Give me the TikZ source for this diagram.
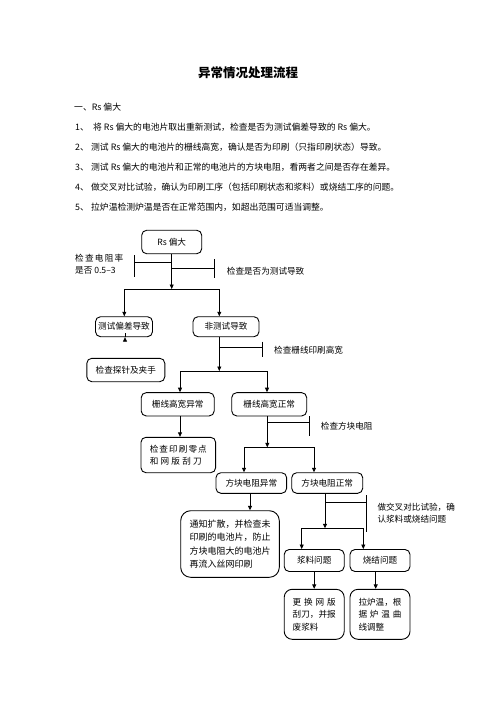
\documentclass[tikz,border=0pt]{standalone}
\usepackage{fontspec}
\setmainfont{Noto Sans CJK SC}
\usetikzlibrary{arrows.meta}
\tikzset{%
	box/.style = {draw,rounded corners=5pt,line width=0.9pt,inner sep=0pt,align=center,font=\fontsize{8.6}{12.5}\selectfont},
	note/.style = {anchor=west,inner sep=0pt,align=left,font=\fontsize{8.6}{12.3}\selectfont},
	body/.style = {anchor=west,inner sep=0pt,font=\fontsize{8.8}{10}\selectfont},
	line/.style = {line width=0.8pt},
	arr/.style = {line width=0.8pt,-{Triangle[width=4pt,length=4.5pt]}}%
}

\begin{document}
\begin{tikzpicture}[x=1pt,y=-1pt]
		\useasboundingbox (0,0) rectangle (496,702);
		
		\node(title)[font=\fontsize{12.5}{14}\selectfont\bfseries] at (248,73){异常情况处理流程};
		\node(l0)[body] at (74,107.5){一、Rs 偏大};
		\node(l1)[body] at (75,127.5){\makebox[18pt][l]{1、}将 Rs 偏大的电池片取出重新测试，检查是否为测试偏差导致的 Rs 偏大。};
		\node(l2)[body] at (75,147){\makebox[16pt][l]{2、}测试 Rs 偏大的电池片的栅线高宽，确认是否为印刷（只指印刷状态）导致。};
		\node(l3)[body] at (75,167){\makebox[16pt][l]{3、}测试 Rs 偏大的电池片和正常的电池片的方块电阻，看两者之间是否存在差异。};
		\node(l4)[body] at (75,187){\makebox[16pt][l]{4、}做交叉对比试验，确认为印刷工序（包括印刷状态和浆料）或烧结工序的问题。};
		\node(l5)[body] at (75,207){\makebox[16pt][l]{5、}拉炉温检测炉温是否在正常范围内，如超出范围可适当调整。};
		
		% flow boxes
		\node(rs)[box,minimum width=60,minimum height=23.5] at (171.7,242){Rs 偏大};
		\node(b1)[box,minimum width=57,minimum height=20] at (124,326.7){测试偏差导致};
		\node(b2)[box,minimum width=66,minimum height=20] at (226,326.7){非测试导致};
		\node(b3)[box,minimum width=78,minimum height=23.4] at (125.8,370){检查探针及夹手};
		\node(b4)[box,minimum width=73,minimum height=23.3] at (177.7,404.3){栅线高宽异常};
		\node(b5)[box,minimum width=75,minimum height=23.3] at (269.2,404.3){栅线高宽正常};
		\node(b6)[box,minimum width=74.7,minimum height=35.4] at (178.3,455){\makebox[57pt][s]{检\hfill 查\hfill 印\hfill 刷\hfill 零\hfill 点}\\\makebox[57pt][l]{\makebox[52pt][s]{和\hfill 网\hfill 版\hfill 刮\hfill 刀}}};
		\node(b7)[box,minimum width=70.7,minimum height=20.6] at (251.3,483){方块电阻异常};
		\node(b8)[box,minimum width=71,minimum height=20.6] at (327.2,483){方块电阻正常};
		\node(b9)[box,rounded corners=10pt,minimum width=98.6,minimum height=66.6,font=\fontsize{9}{13.3}\selectfont,align=left] at (230,544){通知扩散，并检查未\\印刷的电池片，防止\\方块电阻大的电池片\\再流入丝网印刷};
		\node(b10)[box,minimum width=60,minimum height=22] at (314.2,560.5){浆料问题};
		\node(b11)[box,minimum width=60,minimum height=22] at (380,560.5){烧结问题};
		\node(b12)[box,rounded corners=8pt,minimum width=60,minimum height=50,align=left] at (314.2,614.3){\makebox[43pt][s]{更\hfill 换\hfill 网\hfill 版}\\刮刀，并报\\废浆料};
		\node(b13)[box,rounded corners=8pt,minimum width=60,minimum height=50,align=left] at (380,614.3){拉炉温，根\\\makebox[43pt][s]{据\hfill 炉\hfill 温\hfill 曲}\\线调整};
		
		% side notes
		\node(n1)[note] at (75,264){\makebox[48pt][s]{检\hfill 查\hfill 电\hfill 阻\hfill 率}\\是否 0.5--3};
		\node(n2)[note] at (226.7,271.7){检查是否为测试导致};
		\node(n3)[note] at (274,350.7){检查栅线印刷高宽};
		\node(n4)[note] at (320.7,426){检查方块电阻};
		\node(n5)[note] at (377.3,513.3){做交叉对比试验，确\\认浆料或烧结问题};
		
		% joints
		\coordinate(j1) at (171.7,289);
		\coordinate(j1a) at (124.3,289);
		\coordinate(j1b) at (219.3,289);
		\coordinate(j2) at (219.3,371);
		\coordinate(j2a) at (180,371);
		\coordinate(j2b) at (267,371);
		\coordinate(j3) at (267.3,447.3);
		\coordinate(j3a) at (244,447.3);
		\coordinate(j3b) at (314,447.3);
		\coordinate(j4) at (325,528.3);
		\coordinate(j4a) at (301.7,528.3);
		\coordinate(j4b) at (363.3,528.3);
		\coordinate(t1) at (134,262.7);
		\coordinate(t2) at (214.3,268.3);
		\coordinate(t3) at (262,347.3);
		\coordinate(t4) at (309.3,422.7);
		\coordinate(t5) at (366.7,502.7);
		
		\draw[arr] (rs) -- (j1);
		\draw[line] (j1a) -- (j1b);
		\draw[arr] (j1a) -- (j1a |- b1.north);
		\draw[arr] (j1b) -- (j1b |- b2.north);
		\draw[arr] (b1.south -| 125,0) -- (b1.south -| 125,0 |- b3.north);
		\draw[arr] (j2 |- b2.south) -- (j2);
		\draw[line] (j2a) -- (j2b);
		\draw[arr] (j2a) -- (j2a |- b4.north);
		\draw[arr] (j2b) -- (j2b |- b5.north);
		\draw[arr] (j2a |- b4.south) -- (j2a |- b6.north);
		\draw[arr] (j3 |- b5.south) -- (j3);
		\draw[line] (j3a) -- (j3b);
		\draw[arr] (j3a) -- (j3a |- b7.north);
		\draw[arr] (j3b) -- (j3b |- b8.north);
		\draw[arr] ([xshift=-1.3pt]b7.south) -- ([xshift=-1.3pt]b7.south |- b9.north);
		\draw[arr] (j4 |- b8.south) -- (j4);
		\draw[line] (j4a) -- (j4b);
		\draw[arr] (j4a) -- (j4a |- b10.north);
		\draw[arr] (j4b) -- (j4b |- b11.north);
		\draw[arr] (b10.south) -- (b12.north);
		\draw[arr] ([xshift=-4.3pt]b11.south) -- ([xshift=-4.3pt]b13.north);
		
		% check bars
		\draw[line] (t1 -| rs) -- (t1) ([yshift=7.7pt]t1) -- ([yshift=-14.3pt]t1);
		\draw[line] (t2 -| rs) -- (t2) ([yshift=9.3pt]t2) -- ([yshift=-9.7pt]t2);
		\draw[line] (t3 -| j2) -- (t3) ([yshift=5.8pt]t3) -- ([yshift=-9.7pt]t3);
		\draw[line] (t4 -| j3) -- (t4) ([yshift=6.7pt]t4) -- ([yshift=-13.3pt]t4);
		\draw[line] (t5 -| j4) -- (t5) ([yshift=7.7pt]t5) -- ([yshift=-29pt]t5);
\end{tikzpicture}
\end{document}
